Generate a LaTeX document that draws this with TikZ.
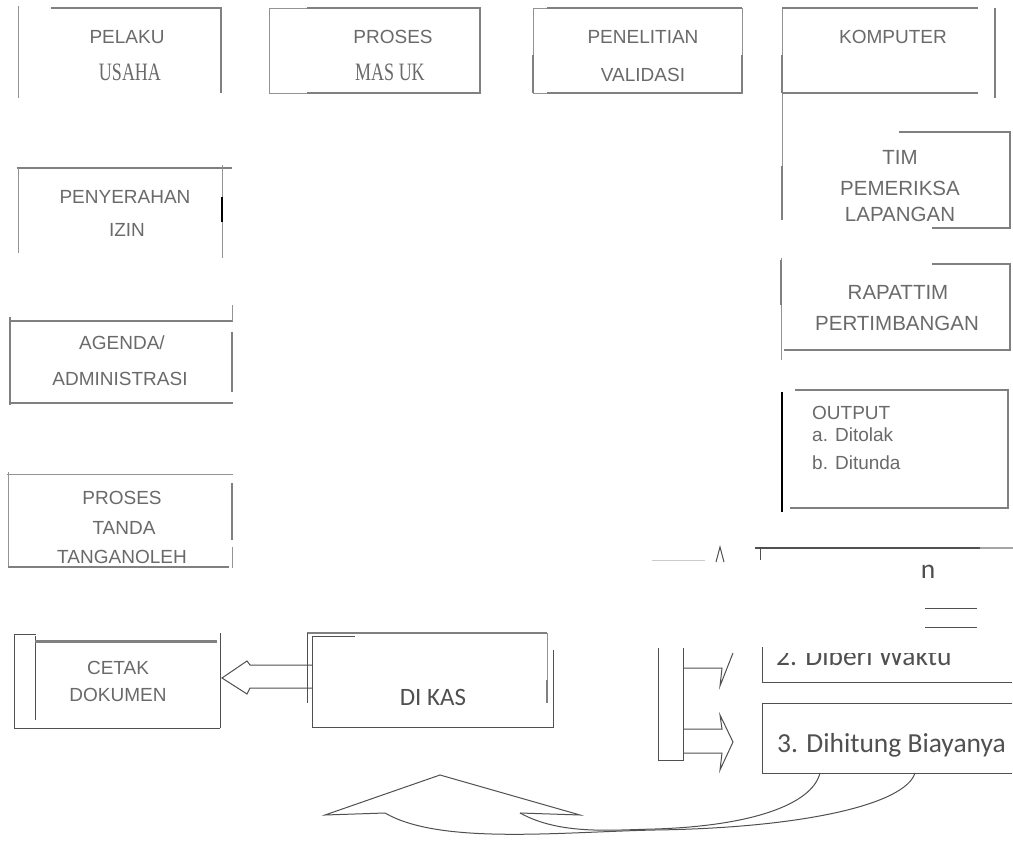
\documentclass[tikz,border=0pt]{standalone}
\usepackage{fontspec}
\setmainfont{Liberation Sans}
\newfontfamily\serifnarrow{Liberation Serif}
\newfontfamily\calib{Carlito}
\usepackage{graphicx}
\definecolor{lg}{HTML}{808080}
\definecolor{tg}{HTML}{6A6A6A}
\definecolor{sc}{HTML}{505050}
\tikzset{
 ln/.style={draw=lg, line width=1.5pt},
 thk/.style={draw=lg, line width=2.8pt},
 thn/.style={draw=lg!85, line width=0.9pt},
 blk/.style={draw=black, line width=1.2pt},
 lbl/.style={text=tg, font=\fontsize{19}{22}\selectfont, inner sep=0pt},
 rlbl/.style={text=tg, font=\fontsize{20.5}{24}\selectfont, inner sep=0pt},
 slbl/.style={text=tg, inner sep=0pt},
 scl/.style={text=sc, font=\calib\fontsize{25}{29}\selectfont, inner sep=0pt},
 scr/.style={text=sc, font=\calib\fontsize{27.5}{31}\selectfont, inner sep=0pt},
 scline/.style={draw=sc, line width=1pt},
}
\newcommand{\narrowserif}[1]{\scalebox{0.72}[1]{\serifnarrow\fontsize{25}{28}\selectfont #1}}
\begin{document}
\begin{tikzpicture}[x=1pt,y=-1pt]
\useasboundingbox[fill=white] (0,0) rectangle (1013,850);

% ---------- PELAKU USAHA
\draw[thn] (18,6) -- (18,98);
\draw[ln] (51,8) -- (221,8) -- (221,93);
\node[lbl] (pelaku) at (127,37) {PELAKU};
\node[slbl] (usaha) at (130,72) {\narrowserif{USAHA}};

% ---------- PROSES MASUK
\draw[thn] (307,93) -- (269,93) -- (269,8) -- (307,8);
\draw[ln] (307,8) -- (480,8) -- (480,93) -- (307,93);
\node[lbl] (proses) at (393,37) {PROSES};
\node[slbl] (masuk) at (390,72) {\narrowserif{MAS UK}};

% ---------- PENELITIAN VALIDASI
\draw[thn] (533,8) -- (742,8) -- (742,93) -- (533,93) -- cycle;
\draw[thk] (533,55) -- (533,93);
\draw[thk] (742,55) -- (742,93);
\draw[thk] (547,93) -- (742,93);
\draw[ln] (547,8) -- (742,8);
\node[lbl] (penelitian) at (643,37) {PENELITIAN};
\node[lbl] (validasi) at (643,75) {VALIDASI};

% ---------- KOMPUTER
\draw[thn] (782,8) -- (782,220);
\draw[thk] (782,55) -- (782,93);
\draw[ln] (782,8) -- (978,8);
\draw[ln] (782,93) -- (978,93);
\draw[ln] (995,8) -- (995,98);
\node[lbl] (komputer) at (893,37) {KOMPUTER};

% ---------- TIM PEMERIKSA LAPANGAN
\draw[thk] (782,166) -- (782,220);
\draw[ln] (899,132) -- (1010,132) -- (1010,228) -- (932,228);
\node[rlbl] (tim) at (900,157) {TIM};
\node[rlbl] (pemeriksa) at (900,188) {PEMERIKSA};
\node[rlbl] (lapangan) at (900,214) {LAPANGAN};

% ---------- RAPAT TIM PERTIMBANGAN
\draw[thn] (781,258) -- (781,360);
\draw[thk] (781,260) -- (781,305);
\draw[ln] (932,264) -- (1010,264) -- (1010,350) -- (784,350);
\node[rlbl] (rapat) at (898,292) {RAPATTIM};
\node[rlbl] (pertimbangan) at (897,323) {PERTIMBANGAN};

% ---------- OUTPUT
\draw[blk] (782,392) -- (782,512);
\draw[ln] (795,390) -- (1008,390) -- (1008,508) -- (790,508);
\node[lbl, anchor=base west] (output) at (812,420) {OUTPUT};
\node[lbl, anchor=base west] (ditolak) at (812,442) {a. Ditolak};
\node[lbl, anchor=base west] (ditunda) at (812,469) {b. Ditunda};

% ---------- PENYERAHAN IZIN
\draw[ln] (17,168) -- (232,168);
\draw[thn] (18,168) -- (18,253);
\draw[thn] (222,165) -- (222,258);
\draw[blk] (222,197) -- (222,222);
\node[lbl] (penyerahan) at (125,197) {PENYERAHAN};
\node[lbl] (izin) at (127,230) {IZIN};

% ---------- AGENDA / ADMINISTRASI
\draw[ln] (9,321) -- (233,321);
\draw[thn] (232,305) -- (232,321);
\draw[thk] (10,317) -- (10,405);
\draw[ln] (10,403) -- (233,403);
\draw[thk] (232,332) -- (232,392);
\node[lbl] (agenda) at (122,343) {AGENDA/};
\node[lbl] (administrasi) at (120,379) {ADMINISTRASI};

% ---------- PROSES TANDA TANGAN OLEH
\draw[thn] (7,474) -- (233,474);
\draw[thn] (8,472) -- (8,567);
\draw[ln] (8,567) -- (229,567);
\draw[thk] (232,483) -- (232,540);
\draw[thn] (232,547) -- (232,568);
\node[lbl] (proses2) at (122,498) {PROSES};
\node[lbl] (tanda) at (124,528) {TANDA};
\node[lbl] (tanganoleh) at (122,557) {TANGANOLEH};

% ---------- CETAK DOKUMEN
\draw[scline] (36,634) -- (14,634) -- (14,728) -- (220,728);
\draw[scline] (35,636) -- (35,720);
\draw[draw=lg, line width=3pt] (35,641) -- (217,641);
\draw[scline] (220,633) -- (220,728);
\node[lbl] (cetak) at (118,668) {CETAK};
\node[lbl] (dokumen) at (118,695) {DOKUMEN};

% ---------- DI KAS
\draw[draw=lg, line width=2.4pt] (307,633) -- (547,633);
\draw[scline] (307,633) -- (307,703);
\draw[scline] (312,637) -- (312,727) -- (553,727) -- (553,650);
\draw[scline] (312,636) -- (355,636);
\draw[thn] (547,633) -- (547,680);
\draw[thk] (547,680) -- (547,703);
\node[scl] (dikas) at (433,697) {DI KAS};

% block arrow DI KAS -> CETAK DOKUMEN
\draw[scline] (312,665) -- (250,665) -- (247,661) -- (222,678) -- (247,694) -- (250,688) -- (312,688);

% ---------- lower right group
\draw[draw=sc, line width=1.8pt] (755,548) -- (980,548);
\draw[draw=lg!70, line width=1.5pt] (980,548) -- (1013,548);
\draw[scline] (760,548) -- (760,560);
\draw[scline] (716,562) -- (720,547) -- (724,562);
\draw[draw=lg!40, line width=1pt] (652,560) -- (705,560);
\node[scr, anchor=base] (n) at (928,578) {n};
\draw[scline] (925,608) -- (977,608);
\draw[scline] (925,627) -- (977,627);

% box 2 (partly hidden)
\draw[scline] (762,647) -- (762,682) -- (1012,682);
\begin{scope}
\clip (740,653) rectangle (1013,690);
\node[scr, anchor=base west] (diberi) at (776,665) {2. Diberi Waktu};
\end{scope}

% box 3
\draw[scline] (1012,703) -- (762,703) -- (762,773) -- (1012,773);
\node[scr, anchor=base west] (dihitung) at (777,752) {3. Dihitung Biayanya};

% vertical bar with arrows
\draw[scline] (658,648) -- (658,760) -- (683,760) -- (683,648);
\draw[scline] (683,668) -- (722,668) -- (720,686) -- (733,653);
\draw[scline] (683,729) -- (722,729) -- (720,715) -- (733,742) -- (720,770) -- (722,753) -- (683,753);

% curved block arrow
\draw[scline] (385,813) -- (325,815) -- (440,775) -- (580,815) -- (520,813);
\draw[scline] (385,813) .. controls (440,845) and (560,832) .. (655,830)
  .. controls (800,828) and (905,805) .. (915,773);
\draw[scline] (520,813) .. controls (560,835) and (610,830) .. (655,829)
  .. controls (750,826) and (812,805) .. (820,773);
\end{tikzpicture}
\end{document}
